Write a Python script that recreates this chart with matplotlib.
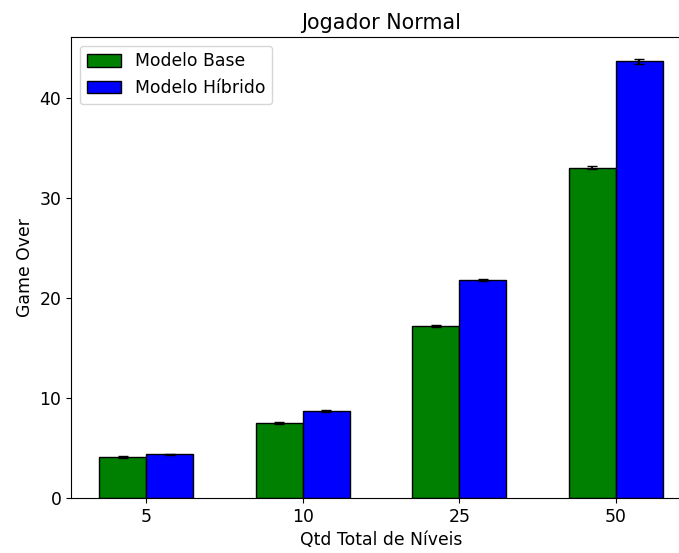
import numpy as np
import matplotlib.pyplot as plt

niveis = ["5", "10", "25", "50"]
base_media = [4.1, 7.5, 17.2, 33.0]
base_erro = [0.08, 0.1, 0.1, 0.15]
hibrido_media = [4.35, 8.7, 21.8, 43.6]
hibrido_erro = [0.08, 0.1, 0.1, 0.25]

plt.rcParams["font.size"] = 12.4

x = np.arange(len(niveis))
largura = 0.3

fig = plt.figure(figsize=(6.79, 5.53), dpi=100)
ax = fig.add_axes([71 / 679, 55 / 553, 620 / 679, 461 / 553])

ax.bar(x - largura / 2, base_media, largura, yerr=base_erro, capsize=3.6,
       color="green", edgecolor="black", label="Modelo Base")
ax.bar(x + largura / 2, hibrido_media, largura, yerr=hibrido_erro, capsize=3.6,
       color="blue", edgecolor="black", label="Modelo Híbrido")

ax.set_xticks(x)
ax.set_xticklabels(niveis)
ax.set_xlabel("Qtd Total de Níveis")
ax.set_ylabel("Game Over")
ax.set_title("Jogador Normal")
ax.legend(loc="upper left")

fig.savefig("out.png", dpi=100)
